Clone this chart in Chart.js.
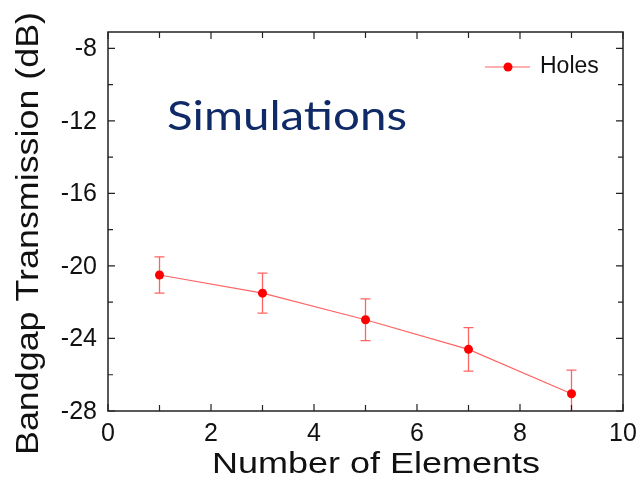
<!DOCTYPE html>
<html>
<head>
<meta charset="utf-8">
<script src="https://cdn.jsdelivr.net/npm/chart.js@4.4.0/dist/chart.umd.min.js"></script>
<style>
html,body{margin:0;padding:0;background:#fff;}
#wrap{width:638px;height:478px;}
</style>
</head>
<body>
<div id="wrap"><canvas id="c" width="638" height="478"></canvas></div>
<script>
// data
const elements = [1, 3, 5, 7, 9];
const transmission = [-20.5, -21.5, -22.97, -24.6, -27.05];
const errors = [1.0, 1.1, 1.15, 1.2, 1.3];

// axis ticks
const xMajor = [0, 2, 4, 6, 8, 10];
const xMinor = [1, 3, 5, 7, 9];
const yMajor = [-28, -24, -20, -16, -12, -8];
const yMinor = [-26, -22, -18, -14, -10];

const seriesLabel = "Holes";
const lineColor = "#ff6464";
const dotColor = "#ff0000";
const tickFont = "25px 'Liberation Sans', Arial, sans-serif";

// draws a string stretched to a given width
function fitText(ctx, txt, x, y, w, font){
    ctx.save();
    ctx.font = font;
    let m = ctx.measureText(txt).width;
    ctx.translate(x, y);
    ctx.scale(w/m, 1);
    ctx.textAlign = "left";
    ctx.fillText(txt, 0, 0);
    ctx.restore();
}

const errorBars = {
    id: "errorBars",
    beforeDatasetsDraw(chart){
        let ctx = chart.ctx, xs = chart.scales.x, ys = chart.scales.y, a = chart.chartArea;
        ctx.save();
        ctx.beginPath();
        ctx.rect(a.left, a.top, a.right-a.left, a.bottom-a.top);
        ctx.clip();
        ctx.strokeStyle = lineColor;
        ctx.lineWidth = 1.3;
        for(let i=0;i<elements.length;i++){
            let px = xs.getPixelForValue(elements[i]);
            let top = ys.getPixelForValue(transmission[i]+errors[i]);
            let bot = ys.getPixelForValue(transmission[i]-errors[i]);
            ctx.beginPath();
            ctx.moveTo(px, top); ctx.lineTo(px, bot);
            ctx.moveTo(px-5, top); ctx.lineTo(px+5, top);
            ctx.moveTo(px-5, bot); ctx.lineTo(px+5, bot);
            ctx.stroke();
        }
        ctx.restore();
    }
};

const frame = {
    id: "frame",
    afterDraw(chart){
        let ctx = chart.ctx, xs = chart.scales.x, ys = chart.scales.y, a = chart.chartArea;
        ctx.save();
        ctx.strokeStyle = "#222";
        ctx.lineWidth = 1.5;
        ctx.strokeRect(a.left, a.top, a.right-a.left, a.bottom-a.top);
        // inward ticks, mirrored on top and right
        ctx.lineWidth = 1.2;
        ctx.beginPath();
        xMajor.concat(xMinor).forEach(v=>{
            let len = xMajor.indexOf(v)>-1 ? 7 : 6;
            let p = xs.getPixelForValue(v);
            ctx.moveTo(p, a.bottom); ctx.lineTo(p, a.bottom-len);
            ctx.moveTo(p, a.top); ctx.lineTo(p, a.top+len);
        });
        yMajor.concat(yMinor).forEach(v=>{
            let len = yMajor.indexOf(v)>-1 ? 7 : 5;
            let p = ys.getPixelForValue(v);
            ctx.moveTo(a.left, p); ctx.lineTo(a.left+len, p);
            ctx.moveTo(a.right, p); ctx.lineTo(a.right-len, p);
        });
        ctx.stroke();

        // tick labels
        ctx.fillStyle = "#111";
        ctx.font = tickFont;
        ctx.textAlign = "right";
        ctx.textBaseline = "middle";
        yMajor.forEach(v=>{
            ctx.fillText(String(v), a.left-11, ys.getPixelForValue(v)+1);
        });
        ctx.textAlign = "center";
        ctx.textBaseline = "top";
        xMajor.forEach(v=>{
            ctx.fillText(String(v), xs.getPixelForValue(v), a.bottom+11);
        });

        // axis titles
        ctx.textBaseline = "alphabetic";
        fitText(ctx, "Number of Elements", 212, 473, 328, "30px 'Liberation Sans', Arial, sans-serif");
        ctx.save();
        ctx.translate(38, 455);
        ctx.rotate(-Math.PI/2);
        fitText(ctx, "Bandgap Transmission (dB)", 0, 0, 443, "31px 'Liberation Sans', Arial, sans-serif");
        ctx.restore();

        // annotation
        ctx.fillStyle = "#102a68";
        fitText(ctx, "Simulations", 167, 130, 240, "41px Lato, 'Open Sans', sans-serif");

        // legend
        let ds = chart.data.datasets[0];
        ctx.strokeStyle = ds.borderColor;
        ctx.lineWidth = 1.2;
        ctx.beginPath();
        ctx.moveTo(485, 67); ctx.lineTo(530, 67);
        ctx.stroke();
        ctx.fillStyle = ds.pointBackgroundColor;
        ctx.beginPath();
        ctx.arc(508, 67, 4.5, 0, Math.PI*2);
        ctx.fill();
        ctx.fillStyle = "#111";
        ctx.font = "23px 'Liberation Sans', Arial, sans-serif";
        ctx.textAlign = "left";
        ctx.textBaseline = "middle";
        ctx.fillText(ds.label, 540, 67);
        ctx.restore();
    }
};

new Chart(document.getElementById("c"), {
    type: "scatter",
    data: {
        datasets: [{
            label: seriesLabel,
            data: elements.map((x,i)=>({x:x, y:transmission[i]})),
            showLine: true,
            borderColor: lineColor,
            borderWidth: 1.2,
            pointBackgroundColor: dotColor,
            pointBorderColor: dotColor,
            pointRadius: 4.5,
            pointBorderWidth: 0
        }]
    },
    options: {
        responsive: false,
        animation: false,
        layout: {padding: {left: 108, right: 15, top: 32, bottom: 67}},
        plugins: {legend: {display: false}, tooltip: {enabled: false}},
        scales: {
            x: {type: "linear", min: 0, max: 10, display: false},
            y: {type: "linear", min: -28, max: -7.1, display: false}
        }
    },
    plugins: [errorBars, frame]
});
</script>
</body>
</html>
